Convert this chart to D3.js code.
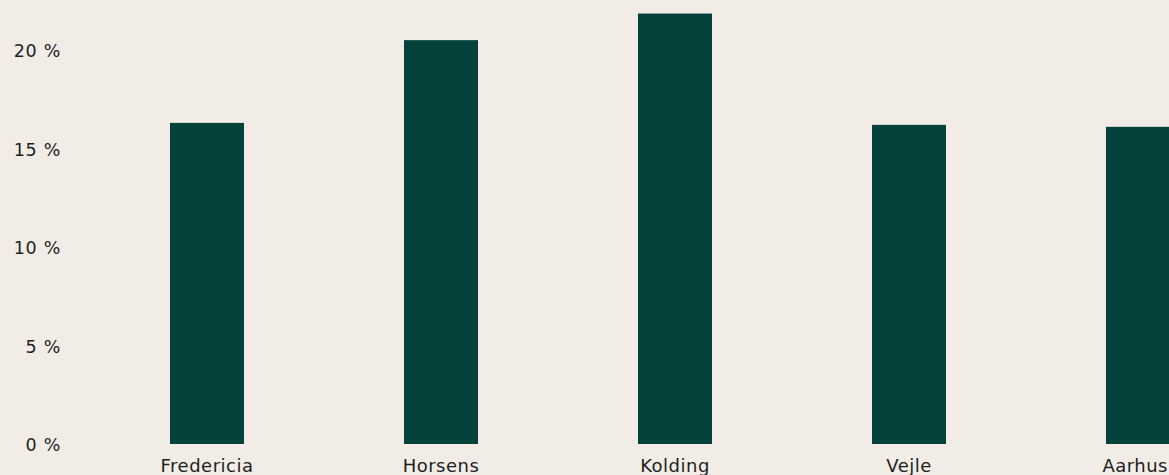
<!DOCTYPE html>
<html>
<head>
<meta charset="utf-8">
<script src="https://cdn.jsdelivr.net/npm/d3@7"></script>
<style>
  html, body { margin: 0; padding: 0; background: #f1ece6; }
  svg { display: block; }
  text { font-family: "DejaVu Sans", sans-serif; fill: #1e1e1e; }
</style>
</head>
<body>
<svg id="chart" width="1169" height="475"></svg>
<script>
const categories = ["Fredericia", "Horsens", "Kolding", "Vejle", "Aarhus"];
const values = [16.3, 20.5, 21.85, 16.2, 16.1];
const yTicks = [0, 5, 10, 15, 20];
const yTickLabels = ["0 %", "5 %", "10 %", "15 %", "20 %"];

const svg = d3.select("#chart");
const W = 1169, H = 475;

svg.append("rect").attr("width", W).attr("height", H).attr("fill", "#f1ece6");

const x = d3.scaleBand()
  .domain(categories)
  .range([90, 1260])
  .paddingInner(0.6838)
  .paddingOuter(0.3419);

const y = d3.scaleLinear().domain([0, 20]).range([444, 50]);

svg.append("g")
  .selectAll("rect")
  .data(categories)
  .join("rect")
  .attr("x", d => x(d))
  .attr("width", x.bandwidth())
  .attr("y", (d, i) => y(values[i]))
  .attr("height", (d, i) => y(0) - y(values[i]))
  .attr("fill", "#03413a");

const yAxis = d3.axisLeft(y)
  .tickValues(yTicks)
  .tickFormat((d, i) => yTickLabels[i])
  .tickSize(0)
  .tickPadding(0);

const gy = svg.append("g").attr("transform", "translate(61,1)").call(yAxis);
gy.select(".domain").remove();
gy.selectAll("text")
  .style("font-family", "DejaVu Sans, sans-serif")
  .style("font-size", "17.5px")
  .style("letter-spacing", "0.7px")
  .attr("fill", "#1e1e1e");

const xAxis = d3.axisBottom(x).tickSize(0).tickPadding(0);
const gx = svg.append("g").attr("transform", "translate(0,444)").call(xAxis);
gx.select(".domain").remove();
gx.selectAll("text")
  .attr("dy", null)
  .attr("y", 28)
  .style("font-family", "DejaVu Sans, sans-serif")
  .style("font-size", "18px")
  .style("letter-spacing", "0.5px")
  .attr("fill", "#1e1e1e");

// keep labels inside the canvas (the last one sits flush with the right edge)
gx.selectAll(".tick").each(function() {
  const t = d3.select(this).select("text");
  const bb = this.getBoundingClientRect();
  if (bb.right > W - 1) {
    t.attr("x", -(bb.right - (W - 1)));
  }
});
</script>
</body>
</html>
